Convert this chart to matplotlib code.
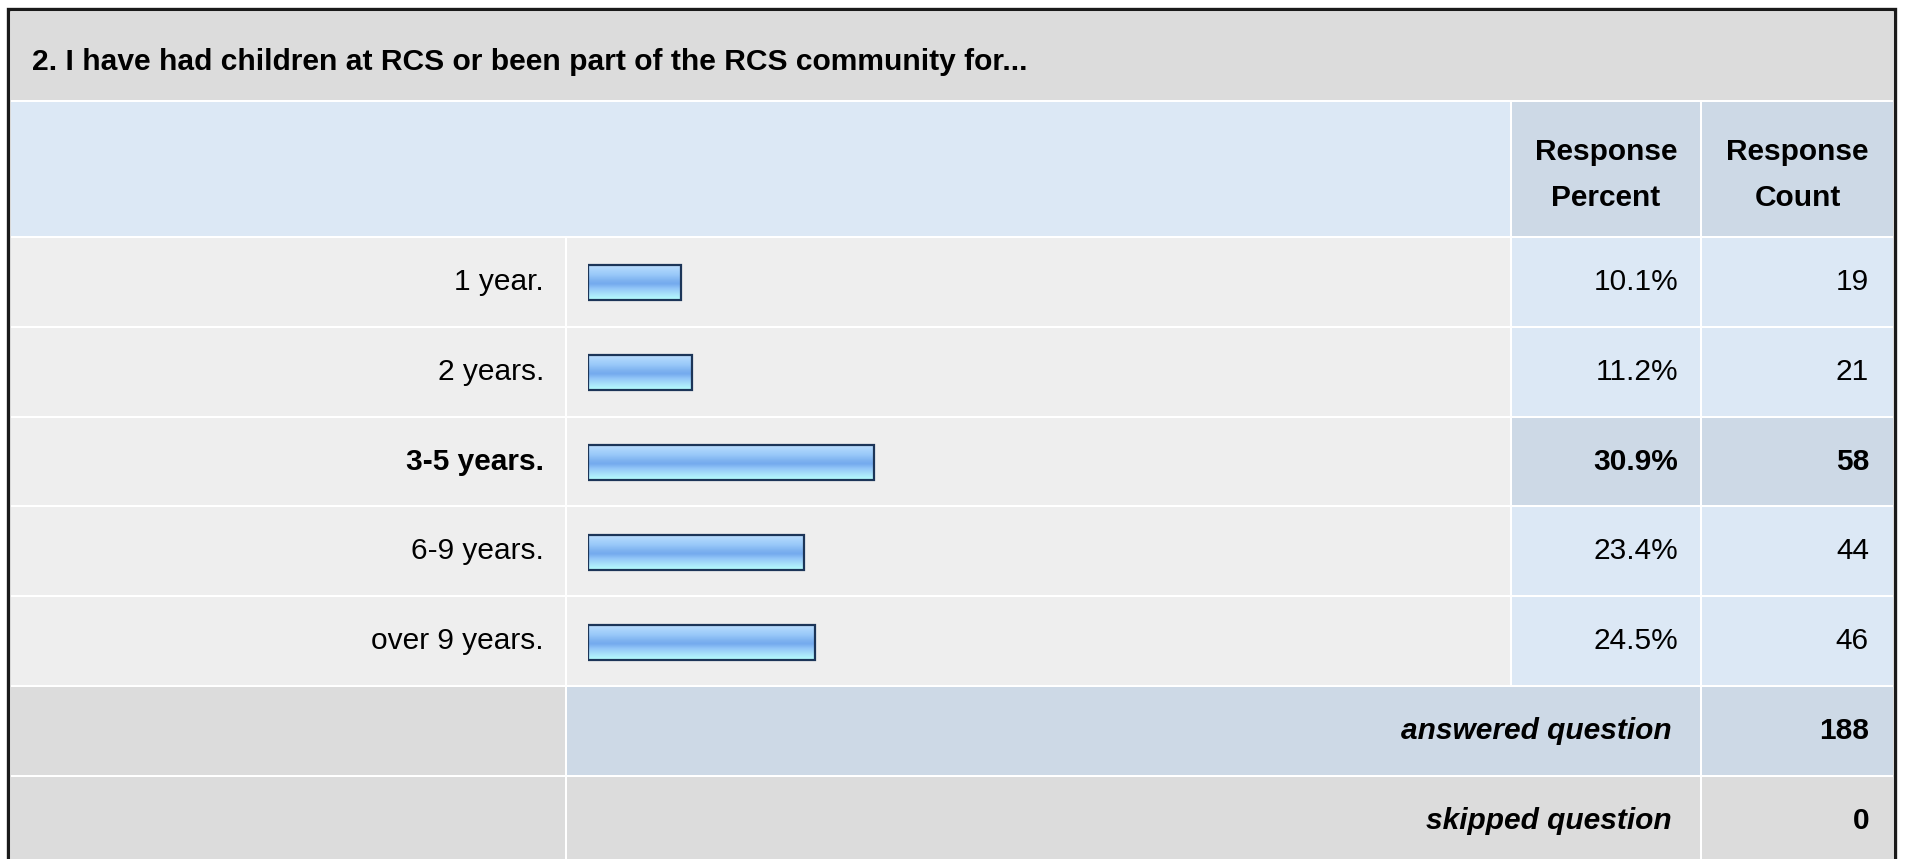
import matplotlib.pyplot as plt
import numpy as np
from matplotlib.colors import LinearSegmentedColormap
from matplotlib.patches import Rectangle

plt.rcParams['font.family'] = ['Liberation Sans', 'DejaVu Sans']

# survey data
title = "2. I have had children at RCS or been part of the RCS community for..."
answers = ["1 year.", "2 years.", "3-5 years.", "6-9 years.", "over 9 years."]
percents = [10.1, 11.2, 30.9, 23.4, 24.5]
counts = [19, 21, 58, 44, 46]
answered = 188
skipped = 0
top_row = percents.index(max(percents))  # highlighted row

# colours
GRAY = '#dcdcdc'
LIGHT = '#eeeeee'
BLUE = '#dce8f5'
DARK_BLUE = '#cdd9e6'

# table layout in pixels
W, H = 1907, 859
X0, X_LAB, X_PCT, X_CNT, X1 = 11, 567, 1512, 1702, 1893
Y_TITLE, Y_HEAD, Y_ROWS = 12, 102, 238
ROW_H = 89.8
GAP = 2

fig = plt.figure(figsize=(W / 100, H / 100), dpi=100)
ax = fig.add_axes([0, 0, 1, 1])
ax.set_xlim(0, W)
ax.set_ylim(H, 0)
ax.axis('off')


def cell(x0, x1, y0, y1, color):
    ax.add_patch(Rectangle((x0, y0), x1 - x0 - GAP, y1 - y0 - GAP,
                           facecolor=color, edgecolor='none', zorder=1))


fs = 21.5

# title band
cell(X0, X1 + GAP, Y_TITLE, Y_HEAD, GRAY)
ax.text(32, 70, title, fontsize=21.6, fontweight='bold', va='baseline', ha='left')

# header
cell(X0, X_PCT, Y_HEAD, Y_ROWS, BLUE)
cell(X_PCT, X_CNT, Y_HEAD, Y_ROWS, DARK_BLUE)
cell(X_CNT, X1 + GAP, Y_HEAD, Y_ROWS, DARK_BLUE)
for xc, word in [((X_PCT + X_CNT - GAP) / 2, "Percent"), ((X_CNT + X1) / 2, "Count")]:
    ax.text(xc, 160, "Response", fontsize=fs, fontweight='bold', ha='center', va='baseline')
    ax.text(xc, 206, word, fontsize=fs, fontweight='bold', ha='center', va='baseline')

# answer rows
for i, (lab, p, c) in enumerate(zip(answers, percents, counts)):
    y0 = Y_ROWS + i * ROW_H
    yc = y0 + (ROW_H - GAP) / 2
    hi = i == top_row
    weight = 'bold' if hi else 'normal'
    cell(X0, X_LAB, y0, y0 + ROW_H, LIGHT)
    cell(X_LAB, X_PCT, y0, y0 + ROW_H, LIGHT)
    cell(X_PCT, X_CNT, y0, y0 + ROW_H, DARK_BLUE if hi else BLUE)
    cell(X_CNT, X1 + GAP, y0, y0 + ROW_H, DARK_BLUE if hi else BLUE)
    ax.text(544, yc, lab, fontsize=fs, fontweight=weight, ha='right', va='center')
    ax.text(1678, yc, f"{p:.1f}%", fontsize=fs, fontweight=weight, ha='right', va='center')
    ax.text(1869, yc, str(c), fontsize=fs, fontweight=weight, ha='right', va='center')

# summary rows
y_ans = Y_ROWS + len(answers) * ROW_H
y_skip = y_ans + ROW_H
cell(X0, X_LAB, y_ans, y_skip, GRAY)
cell(X_LAB, X_CNT, y_ans, y_skip, DARK_BLUE)
cell(X_CNT, X1 + GAP, y_ans, y_skip, DARK_BLUE)
cell(X0, X_LAB, y_skip, y_skip + ROW_H, GRAY)
cell(X_LAB, X_CNT, y_skip, y_skip + ROW_H, GRAY)
cell(X_CNT, X1 + GAP, y_skip, y_skip + ROW_H, GRAY)
for y0, lab, val in [(y_ans, "answered question", answered), (y_skip, "skipped question", skipped)]:
    yc = y0 + (ROW_H - GAP) / 2
    ax.text(1672, yc, lab, fontsize=fs, fontweight='bold', style='italic', ha='right', va='center')
    ax.text(1869, yc, str(val), fontsize=fs, fontweight='bold', ha='right', va='center')

# outer frame
ax.plot([7.5, 7.5, 1895, 1895], [H + 5, 8.5, 8.5, H + 5], color='#1a1a1a', lw=2.4,
        solid_joinstyle='miter', zorder=5)

# bar axes over the bar column
bx = fig.add_axes([588 / W, 1 - (Y_ROWS + 5 * ROW_H) / H, 925 / W, 5 * ROW_H / H])
bx.patch.set_alpha(0)
bx.axis('off')
ypos = np.arange(len(answers))
bars = bx.barh(ypos, percents, height=0.39, left=0, facecolor='none',
               edgecolor='#1c3558', linewidth=1.6, zorder=3)

grad_cmap = LinearSegmentedColormap.from_list('bar', [
    (0.0, '#c4e2ff'), (0.12, '#aed6fc'), (0.3, '#98c8f9'), (0.45, '#7fb3f0'),
    (0.55, '#74aaee'), (0.68, '#92c6f8'), (0.82, '#a6def9'), (1.0, '#b6ffff')])
grad = np.linspace(0, 1, 64).reshape(-1, 1)
for b in bars:
    x, y, w, h = b.get_x(), b.get_y(), b.get_width(), b.get_height()
    im = bx.imshow(grad, cmap=grad_cmap, aspect='auto', extent=[x, x + w, y + h, y],
                   interpolation='bilinear', zorder=2)
    im.set_clip_path(b)

bx.set_xlim(0, 100)
bx.set_ylim(len(answers) - 0.5, -0.5)

fig.savefig('out.png', dpi=100)
